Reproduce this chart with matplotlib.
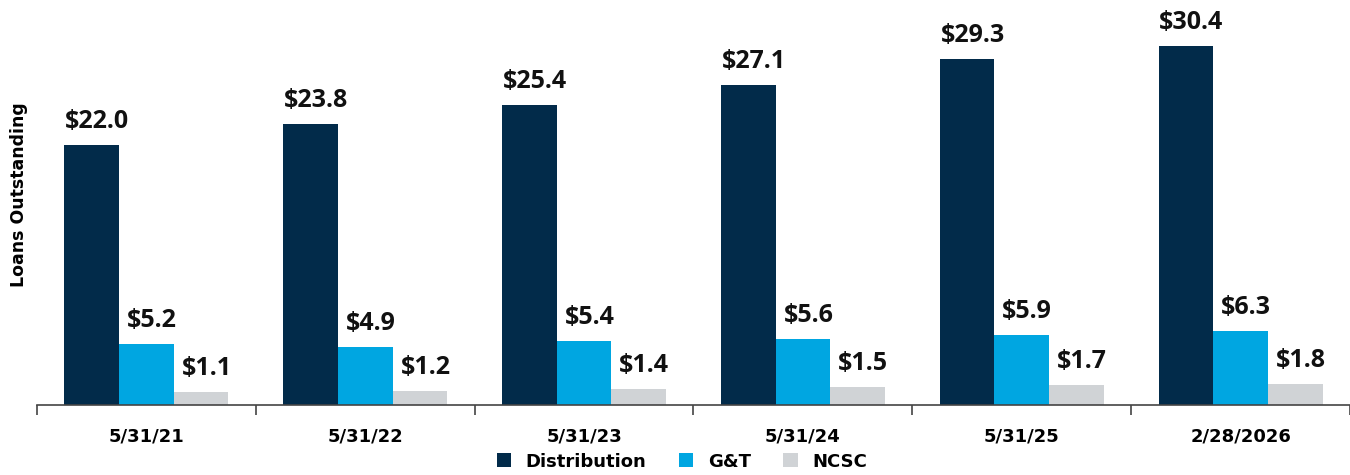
import matplotlib
matplotlib.use('Agg')
import matplotlib.pyplot as plt
import numpy as np

# Veriler
kategoriler = ["5/31/21", "5/31/22", "5/31/23", "5/31/24", "5/31/25", "2/28/2026"]
distribution = [22.0, 23.8, 25.4, 27.1, 29.3, 30.4]
gt = [5.2, 4.9, 5.4, 5.6, 5.9, 6.3]
ncsc = [1.1, 1.2, 1.4, 1.5, 1.7, 1.8]
seriler = [("Distribution", distribution, "#022B4A"),
           ("G&T", gt, "#00A6E1"),
           ("NCSC", ncsc, "#D0D3D6")]

plt.rcParams['font.family'] = ['Open Sans', 'DejaVu Sans']

fig = plt.figure(figsize=(13.5, 4.75), dpi=100)
ax = fig.add_axes([0.0274, 0.147, 0.9726, 0.853])

x = np.arange(len(kategoriler))
w = 0.25
for i, (ad, degerler, renk) in enumerate(seriler):
    konum = x + (i - 1) * w
    ax.bar(konum, degerler, w, color=renk, label=ad)
    for xx, v in zip(konum, degerler):
        ax.annotate(f"${v:.1f}", (xx, v), xytext=(4, 8), textcoords="offset points",
                    ha="center", va="bottom", fontsize=18, fontweight="bold", color="#111111")

ax.set_xlim(-0.5, len(kategoriler) - 0.5)
ax.set_ylim(0, 34.3)
ax.set_yticks([])
for s in ["top", "right", "left"]:
    ax.spines[s].set_visible(False)
ax.spines["bottom"].set_color("#444444")
ax.spines["bottom"].set_linewidth(1.2)

# kategori sınırlarında tikler
ax.set_xticks(x)
ax.set_xticklabels(kategoriler, fontsize=13, fontweight="bold", family=['DejaVu Sans'])
ax.tick_params(axis="x", which="major", length=0, pad=16)
ax.set_xticks(np.arange(len(kategoriler) + 1) - 0.5, minor=True)
ax.tick_params(axis="x", which="minor", length=7, width=1.2, color="#444444")

ax.set_ylabel("Loans Outstanding", fontsize=12.5, fontweight="bold", family=['DejaVu Sans'])
ax.yaxis.set_label_coords(-0.007, 0.52)

fig.legend(loc="lower center", bbox_to_anchor=(0.505, -0.025), ncol=3, frameon=False,
           prop={"weight": "bold", "size": 13, "family": "DejaVu Sans"}, handlelength=0.8, handleheight=0.8,
           columnspacing=1.8, handletextpad=0.8)

plt.savefig("out.png", dpi=100)
plt.close()
